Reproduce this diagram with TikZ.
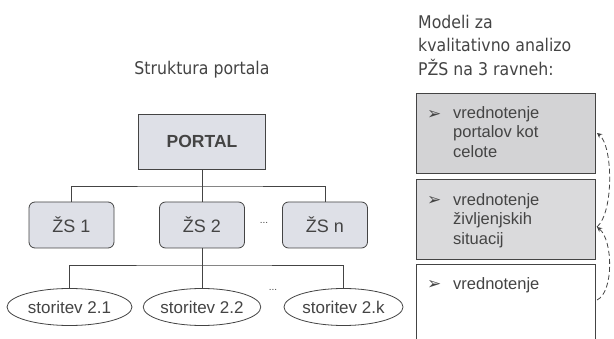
\documentclass[tikz,border=0pt]{standalone}
\usepackage{fontspec}
\setmainfont{Liberation Sans}
\newfontfamily\headfont[FakeStretch=0.9]{DejaVu Sans}
\newfontfamily\symfont{DejaVu Sans}
\usetikzlibrary{arrows.meta,shapes.geometric}

\definecolor{ink}{HTML}{444444}
\definecolor{boxblue}{HTML}{DEE0E7}
\definecolor{lvlone}{HTML}{D3D3D5}
\definecolor{lvltwo}{HTML}{DADADC}

\begin{document}
\begin{tikzpicture}[x=1pt, y=-1pt,
  head/.style={font=\headfont\fontsize{17.5}{23.5}\selectfont, text=ink, inner sep=0pt, align=left},
  portalbox/.style={draw=ink, thick, fill=boxblue, minimum width=127pt, minimum height=55pt,
    font=\bfseries\fontsize{17.5}{20}\selectfont, text=ink},
  zsbox/.style={draw=ink, thick, fill=boxblue, rounded corners=6pt, minimum width=85pt,
    minimum height=46pt, font=\fontsize{18}{20}\selectfont, text=ink},
  svc/.style={draw=ink, thick, fill=white, ellipse, minimum width=120pt, minimum height=37pt,
    inner sep=0pt, font=\fontsize{17}{20}\selectfont, text=ink},
  lvl/.style={draw=ink, thick, minimum width=179pt, inner sep=0pt},
  lvltxt/.style={font=\fontsize{16.5}{19.8}\selectfont, text=ink, inner sep=0pt, align=left, anchor=north west},
  bul/.style={font=\symfont\fontsize{17}{17}\selectfont, text=ink, inner sep=0pt, anchor=base west},
  dotsnode/.style={font=\fontsize{10}{10}\selectfont, text=ink, inner sep=0pt},
  bus/.style={draw=ink, thick},
  link/.style={draw=ink, thick, dashed, dash pattern=on 5pt off 3pt, -{Stealth[length=5pt, width=5pt]}}
]
  \clip (0,0) rectangle (614,339);
  \fill[white] (0,0) rectangle (614,339);

  % left: structure of the portal
  \node[head, anchor=base] (title) at (202,75) {Struktura portala};
  \node[portalbox] (portal) at (202,141.5) {PORTAL};
  \node[zsbox] (zs1) at (71.5,225) {ŽS 1};
  \node[zsbox] (zs2) at (202,225) {ŽS 2};
  \node[zsbox] (zsn) at (325,225) {ŽS n};
  \node[dotsnode] (dotsa) at (264,223) {...};
  \node[svc, minimum width=125pt] (s1) at (69.5,307) {storitev 2.1};
  \node[svc, minimum width=115pt] (s2) at (202,307) {storitev 2.2};
  \node[svc, minimum width=119pt] (sk) at (343.5,307) {storitev 2.k};
  \node[dotsnode] (dotsb) at (273,290) {...};

  % tree connectors
  \coordinate (j1) at (202,186);
  \coordinate (j2) at (202,265);
  \path[bus] (portal.south) -- (j1);
  \path[bus] (zs1.north) |- (j1) -| (zsn.north);
  \path[bus] (j1) -- (zs2.north);
  \path[bus] (zs2.south) -- (j2);
  \path[bus] (s1.north) |- (j2) -| (sk.north);
  \path[bus] (j2) -- (s2.north);

  % right: three levels
  \node[head, anchor=north west] (models) at (418,15) {Modeli za\\kvalitativno analizo\\PŽS na 3 ravneh:};
  \node[lvl, fill=lvlone, minimum height=80pt, anchor=north west] (b1) at (416,93) {};
  \node[lvl, fill=lvltwo, minimum height=80pt, anchor=north west] (b2) at (416,179) {};
  \node[lvl, fill=white, minimum height=90pt, anchor=north west] (b3) at (416,264) {};
  \node[bul] (m1) at (427,120) {➢};
  \node[bul] (m2) at (427,206) {➢};
  \node[bul] (m3) at (427,290) {➢};
  \node[lvltxt] (t1) at (453,106) {vrednotenje\\portalov kot\\celote};
  \node[lvltxt] (t2) at (453,193) {vrednotenje\\življenjskih\\situacij};
  \node[lvltxt] (t3) at (453,277) {vrednotenje};

  % dashed links between levels
  \coordinate (c3) at (597,300);
  \coordinate (c2) at (597,227);
  \coordinate (c1) at (597,133);
  \draw[link] (c3) .. controls (614,292) and (613,240) .. (c2);
  \draw[link] (c2) .. controls (614,212) and (613,146) .. (c1);
\end{tikzpicture}
\end{document}
